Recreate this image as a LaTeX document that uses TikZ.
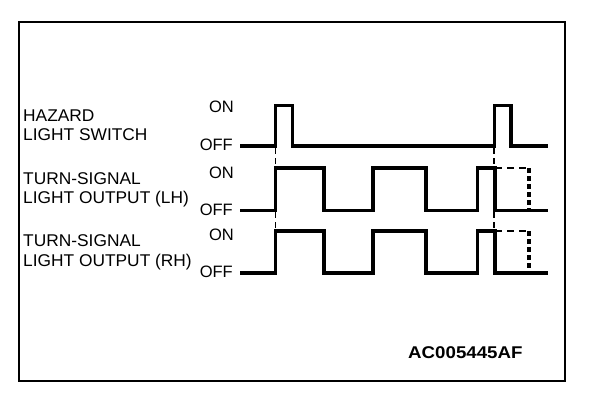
\documentclass[tikz,border=0pt]{standalone}
\usepackage{fontspec}
\setmainfont{Liberation Sans}
\begin{document}
\begin{tikzpicture}[x=1pt,y=-1pt,
  lbl/.style={anchor=base west,inner sep=0pt,font=\fontsize{17}{19}\selectfont,xscale=1.02},
  lvl/.style={anchor=base east,inner sep=0pt,font=\fontsize{16.5}{18}\selectfont},
  sig/.style={line width=3.6pt,line join=miter,line cap=butt},
  guide/.style={line width=1.1pt,dash pattern=on 6pt off 4pt},
  hdash/.style={line width=2.8pt,dash pattern=on 7pt off 5pt},
  vdot/.style={line width=4pt,dash pattern=on 5pt off 3pt},
  frame/.style={line width=2.8pt}]
\useasboundingbox (0,0) rectangle (608,404);
\draw[frame] (19,22) rectangle (565,381);
% labels
\node[lbl] (h1) at (23,121.7) {HAZARD};
\node[lbl] (h2) at (23,140.7) {LIGHT SWITCH};
\node[lbl] (l1) at (23,184) {TURN-SIGNAL};
\node[lbl] (l2) at (23,203) {LIGHT OUTPUT (LH)};
\node[lbl] (r1) at (23,246) {TURN-SIGNAL};
\node[lbl] (r2) at (23,266) {LIGHT OUTPUT (RH)};
\node[lvl] (hon) at (234,112.7) {ON};
\node[lvl] (hoff) at (233,150) {OFF};
\node[lvl] (lon) at (234,178) {ON};
\node[lvl] (loff) at (233,215) {OFF};
\node[lvl] (ron) at (234,240) {ON};
\node[lvl] (roff) at (233,277) {OFF};
\node[anchor=base west,inner sep=0pt,font=\bfseries\fontsize{17}{19}\selectfont,xscale=1.1] (id) at (408,358.3) {AC005445AF};
% hazard switch
\draw[sig] (240,146) -- (275.5,146) -- (275.5,105.5) -- (292.5,105.5) -- (292.5,146)
  -- (494.5,146) -- (494.5,105.5) -- (511,105.5) -- (511,146) -- (548,146);
% LH
\draw[sig] (240,210.5) -- (275.5,210.5) -- (275.5,168) -- (324,168) -- (324,210.5)
  -- (373,210.5) -- (373,168) -- (426,168) -- (426,210.5) -- (477.5,210.5)
  -- (477.5,168) -- (495,168) -- (495,210.5) -- (548,210.5);
% RH
\draw[sig] (240,272.7) -- (275.5,272.7) -- (275.5,231) -- (324,231) -- (324,272.7)
  -- (373,272.7) -- (373,231) -- (426,231) -- (426,272.7) -- (477.5,272.7)
  -- (477.5,231) -- (495,231) -- (495,272.7) -- (548,272.7);
% dashed continuation
\coordinate (la) at (495,168); \coordinate (lb) at (529,168); \coordinate (lc) at (529,210.5);
\coordinate (ra) at (495,231); \coordinate (rb) at (529,231); \coordinate (rc) at (529,272.7);
\draw[hdash] (la) -- (lb);
\draw[vdot] (lb) -- (lc);
\draw[hdash] (ra) -- (rb);
\draw[vdot] (rb) -- (rc);
% guides
\draw[guide] (275.5,148) -- (275.5,166);
\draw[guide] (275.5,212) -- (275.5,229);
\draw[guide] (494,148) -- (494,166);
\draw[guide] (494,212) -- (494,229);
\end{tikzpicture}
\end{document}
